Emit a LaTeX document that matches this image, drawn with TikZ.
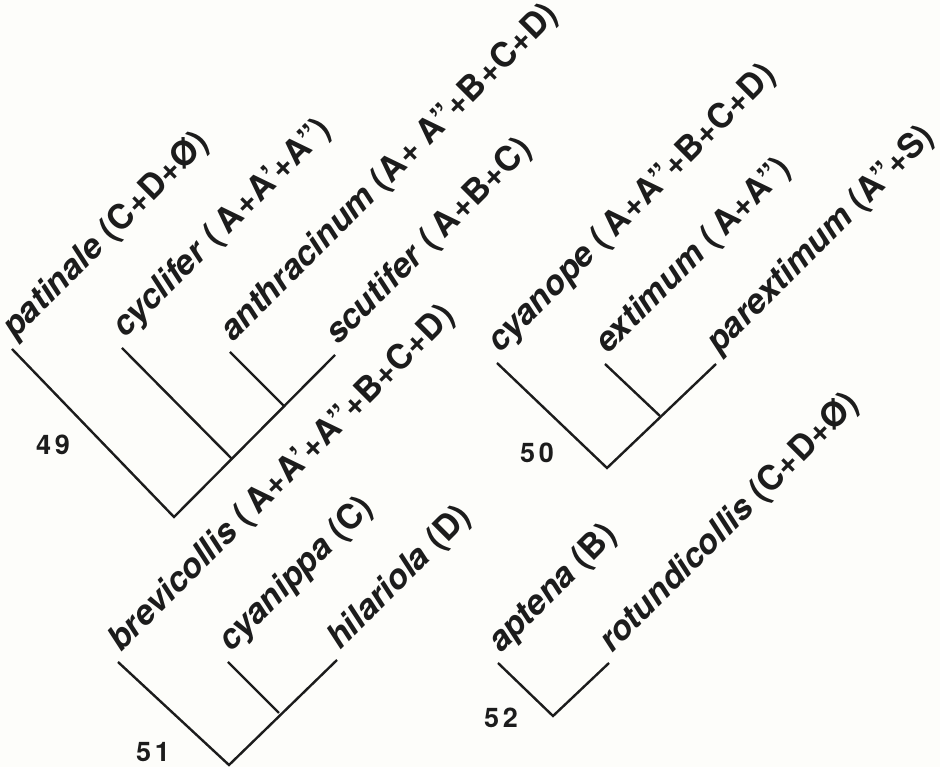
\documentclass[tikz,border=0pt]{standalone}
\usepackage{fontspec}
\setmainfont{TeX Gyre Heros}
\definecolor{ink}{HTML}{1C1C1C}
\definecolor{paper}{HTML}{FDFDFA}
\tikzset{
  branch/.style={line width=2.4pt, draw=ink, line cap=butt, line join=miter},
  taxon/.style={rotate=45, anchor=base west, inner sep=0pt, text=ink,
    font=\fontsize{34}{34}\selectfont\bfseries},
  fignum/.style={inner sep=0pt, text=ink,
    font=\fontsize{27}{27}\selectfont\bfseries\addfontfeature{LetterSpace=14}},
}
\begin{document}
\begin{tikzpicture}[x=1pt,y=1pt]
\fill[paper] (0,0) rectangle (940,767);
\useasboundingbox (0,0) rectangle (940,767);
% ---------- tree 49
\coordinate (t49a) at (12,418);
\coordinate (t49b) at (122,419);
\coordinate (t49c) at (230,415);
\coordinate (t49d) at (335,412);
\coordinate (j49c) at (284,361);
\coordinate (j49b) at (232,308);
\coordinate (r49) at (174,250);
\draw[branch] (t49a) -- (r49) -- (t49d);
\draw[branch] (t49b) -- (j49b);
\draw[branch] (t49c) -- (j49c);
\node[taxon] (l49a) at ([shift={(3,9)}]t49a) {\textit{patinale} (C+D+Ø)};
\node[taxon] (l49b) at ([shift={(3,9)}]t49b) {\textit{cyclifer} (\,A+A’+A”)};
\node[taxon] (l49c) at ([shift={(3,9)}]t49c) {\textit{anthracinum} (A+ A”+B+C+D)};
\node[taxon] (l49d) at ([shift={(3,9)}]t49d) {\textit{scutifer} (\,A+B+C)};
\node[fignum] (n49) at (53,322) {49};
% ---------- tree 50
\coordinate (t50a) at (497,404);
\coordinate (t50b) at (605,403);
\coordinate (t50c) at (716,403);
\coordinate (j50b) at (660,351);
\coordinate (r50) at (607,299);
\draw[branch] (t50a) -- (r50) -- (t50c);
\draw[branch] (t50b) -- (j50b);
\node[taxon] (l50a) at ([shift={(3,9)}]t50a) {\textit{cyanope} (\,A+A”+B+C+D)};
\node[taxon] (l50b) at ([shift={(3,9)}]t50b) {\textit{extimum} (\,A+A”)};
\node[taxon] (l50c) at ([shift={(3,9)}]t50c) {\textit{parextimum} (A”+S)};
\node[fignum] (n50) at (537,314) {50};
% ---------- tree 51
\coordinate (t51a) at (118,105);
\coordinate (t51b) at (228,105);
\coordinate (t51c) at (337,107);
\coordinate (j51b) at (279,54);
\coordinate (r51) at (229,2);
\draw[branch] (t51a) -- (r51) -- (t51c);
\draw[branch] (t51b) -- (j51b);
\node[taxon] (l51a) at ([shift={(3,9)}]t51a) {\textit{brevicollis} (\,A+A’+A”+B+C+D)};
\node[taxon] (l51b) at ([shift={(3,9)}]t51b) {\textit{cyanippa} (C)};
\node[taxon] (l51c) at ([shift={(3,9)}]t51c) {\textit{hilariola} (D)};
\node[fignum] (n51) at (153,15) {51};
% ---------- tree 52
\coordinate (t52a) at (498,104);
\coordinate (t52b) at (609,104);
\coordinate (r52) at (553,51);
\draw[branch] (t52a) -- (r52) -- (t52b);
\node[taxon] (l52a) at ([shift={(3,9)}]t52a) {\textit{aptena} (B)};
\node[taxon] (l52b) at ([shift={(3,9)}]t52b) {\textit{rotundicollis} (C+D+Ø)};
\node[fignum] (n52) at (501,49) {52};
\end{tikzpicture}
\end{document}
